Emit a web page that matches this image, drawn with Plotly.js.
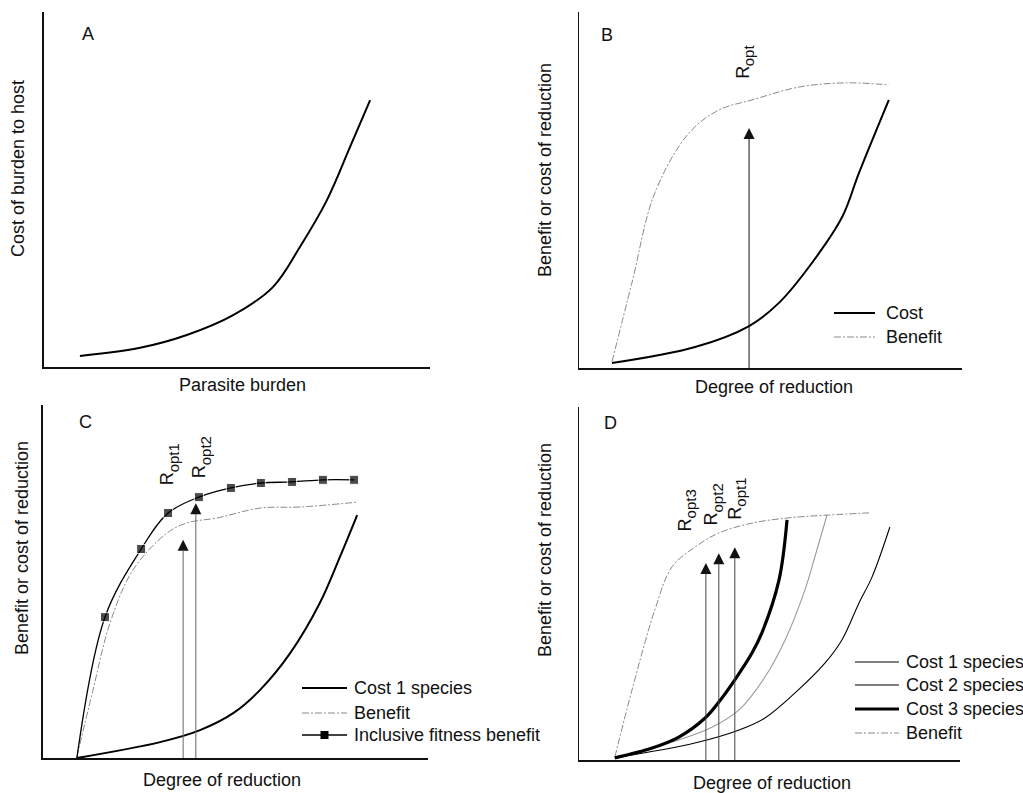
<!DOCTYPE html>
<html>
<head>
<meta charset="utf-8">
<script src="https://cdn.plot.ly/plotly-3.0.1.min.js"></script>
<style>html,body{margin:0;padding:0;background:#fff;}#chart{width:1023px;height:793px;}</style>
</head>
<body>
<div id="chart"></div>
<script>
// ---------- Panel A ----------
const xA_cost = [0.93, 2.49, 3.70, 4.90, 5.93, 6.63, 7.33, 7.93, 8.45];
const yA_cost = [0.31, 0.54, 0.90, 1.46, 2.25, 3.38, 4.70, 6.20, 7.52];

// ---------- Panel B ----------
const xB_cost = [0.86, 3.03, 4.44, 5.22, 6.08, 6.87, 7.31, 8.09];
const yB_cost = [0.14, 0.59, 1.18, 1.83, 2.95, 4.24, 5.48, 7.53];
const xB_benefit = [0.86, 1.38, 1.98, 2.87, 3.66, 4.52, 5.74, 6.95, 8.09];
const yB_benefit = [0.17, 2.39, 4.92, 6.60, 7.25, 7.53, 7.89, 8.01, 7.95];
const xB_ropt = [4.44], yB_roptTip = [6.74];

// ---------- Panel C ----------
const xC_cost = [0.88, 3.04, 4.08, 4.94, 5.64, 6.42, 7.19, 7.71, 8.16];
const yC_cost = [0.00, 0.45, 0.79, 1.27, 1.93, 2.97, 4.39, 5.69, 6.88];
const xC_benefit = [0.88, 1.30, 1.74, 2.34, 3.22, 3.74, 4.52, 5.64, 6.68, 8.18];
const yC_benefit = [0.03, 1.93, 3.82, 5.33, 6.37, 6.66, 6.80, 7.08, 7.11, 7.25];
const xC_incl = [0.88, 1.61, 2.55, 3.25, 4.05, 4.88, 5.66, 6.47, 7.27, 8.08];
const yC_incl = [0.00, 3.99, 5.92, 6.94, 7.39, 7.65, 7.79, 7.82, 7.88, 7.88];
const xC_ropt = [3.64, 3.97], yC_roptTip = [6.18, 7.22];

// ---------- Panel D ----------
const xD_cost1 = [0.94, 3.04, 4.20, 4.88, 5.67, 6.46, 6.90, 7.35, 7.69, 8.16];
const yD_cost1 = [0.06, 0.48, 0.85, 1.19, 1.90, 2.75, 3.40, 4.45, 5.18, 6.60];
const xD_cost2 = [0.94, 2.62, 3.49, 4.20, 4.88, 5.41, 5.93, 6.19, 6.51];
const yD_cost2 = [0.06, 0.57, 0.93, 1.42, 2.35, 3.40, 4.82, 5.75, 6.94];
const xD_cost3 = [0.94, 1.92, 2.62, 3.31, 3.67, 4.09, 4.54, 4.80, 5.25, 5.46];
const yD_cost3 = [0.06, 0.34, 0.65, 1.19, 1.64, 2.27, 3.03, 3.60, 5.10, 6.80];
const xD_benefit = [0.94, 1.39, 1.99, 2.44, 3.04, 3.67, 4.54, 5.51, 6.56, 7.61];
const yD_benefit = [0.08, 1.98, 4.25, 5.47, 6.03, 6.43, 6.71, 6.86, 6.94, 7.00];
const xD_ropt = [3.33, 3.67, 4.09], yD_roptTip = [5.58, 5.86, 6.03];

const panelLetters = ['A', 'B', 'C', 'D'];
const xTitles = ['Parasite burden', 'Degree of reduction', 'Degree of reduction', 'Degree of reduction'];
const yTitles = ['Cost of burden to host', 'Benefit or cost of reduction', 'Benefit or cost of reduction', 'Benefit or cost of reduction'];
const roptSubsC = ['opt1', 'opt2'];
const roptSubsD = ['opt3', 'opt2', 'opt1'];

const FONT = 'Liberation Sans, Arial, sans-serif';
const FS = 18;
const BEN = {color: '#8a8a8a', width: 1, dash: '7px,2px,2px,2px'};

function arrowHeads(xs, ys, xa, ya, color) {
  return {x: xs, y: ys, xaxis: xa, yaxis: ya, mode: 'markers', hoverinfo: 'skip', showlegend: false,
          marker: {symbol: 'arrow-up', size: 11, color: color, line: {width: 0}}};
}

const traces = [
  {x: xA_cost, y: yA_cost, xaxis: 'x', yaxis: 'y', mode: 'lines', line: {color: '#000', width: 2, shape: 'spline'}, name: 'Cost'},
  {x: xB_benefit, y: yB_benefit, xaxis: 'x2', yaxis: 'y2', mode: 'lines', line: Object.assign({shape: 'spline'}, BEN), name: 'Benefit'},
  {x: xB_cost, y: yB_cost, xaxis: 'x2', yaxis: 'y2', mode: 'lines', line: {color: '#000', width: 2, shape: 'spline'}, name: 'Cost'},
  arrowHeads(xB_ropt, yB_roptTip, 'x2', 'y2', '#111'),
  {x: xC_benefit, y: yC_benefit, xaxis: 'x3', yaxis: 'y3', mode: 'lines', line: Object.assign({shape: 'spline'}, BEN), name: 'Benefit'},
  {x: xC_cost, y: yC_cost, xaxis: 'x3', yaxis: 'y3', mode: 'lines', line: {color: '#000', width: 2, shape: 'spline'}, name: 'Cost 1 species'},
  {x: xC_incl, y: yC_incl, xaxis: 'x3', yaxis: 'y3', mode: 'lines+markers', line: {color: '#000', width: 1.3, shape: 'spline'},
   marker: {symbol: 'square', color: '#000', size: xC_incl.map((v, i) => i === 0 ? 0 : 9)}, name: 'Inclusive fitness benefit'},
  arrowHeads(xC_ropt, yC_roptTip, 'x3', 'y3', '#111'),
  {x: xD_benefit, y: yD_benefit, xaxis: 'x4', yaxis: 'y4', mode: 'lines', line: Object.assign({shape: 'spline'}, BEN), name: 'Benefit'},
  {x: xD_cost1, y: yD_cost1, xaxis: 'x4', yaxis: 'y4', mode: 'lines', line: {color: '#000', width: 1.1, shape: 'spline'}, name: 'Cost 1 species'},
  {x: xD_cost2, y: yD_cost2, xaxis: 'x4', yaxis: 'y4', mode: 'lines', line: {color: '#9a9a9a', width: 1.1, shape: 'spline'}, name: 'Cost 2 species'},
  {x: xD_cost3, y: yD_cost3, xaxis: 'x4', yaxis: 'y4', mode: 'lines', line: {color: '#000', width: 3.2, shape: 'spline'}, name: 'Cost 3 species'},
  arrowHeads(xD_ropt, yD_roptTip, 'x4', 'y4', '#111')
];

function ax(domain, anchor) {
  return {domain: domain, range: [0, 10], anchor: anchor, showgrid: false, zeroline: false,
          showticklabels: false, ticks: '', showline: true, linecolor: '#111', linewidth: 1.5, fixedrange: true};
}

const annotations = [];
const shapes = [];
function txt(x, y, text, opts) {
  annotations.push(Object.assign({xref: 'paper', yref: 'paper', x: x / 1023, y: 1 - y / 793, text: text, showarrow: false,
    font: {family: FONT, size: FS, color: '#111'}, xanchor: 'center', yanchor: 'middle'}, opts || {}));
}
function stem(xr, yr, x, tip, color) {
  shapes.push({type: 'line', xref: xr, yref: yr, x0: x, x1: x, y0: 0, y1: tip - 0.3, line: {color: color, width: 1}});
}
// "R" with its subscript, written as two rotated texts (subscript shifted down = right when rotated)
function ropt(xr, yr, x, y, sub) {
  annotations.push({xref: xr, yref: yr, x: x, y: y, text: 'R', showarrow: false, textangle: -90,
    xanchor: 'center', yanchor: 'bottom', font: {family: FONT, size: FS, color: '#111'}});
  annotations.push({xref: xr, yref: yr, x: x, y: y, text: sub, showarrow: false, textangle: -90,
    xanchor: 'center', yanchor: 'bottom', xshift: 6, yshift: 13, font: {family: FONT, size: 15, color: '#111'}});
}
function legLine(x0, x1, y, line) {
  shapes.push({type: 'line', xref: 'paper', yref: 'paper', x0: x0 / 1023, x1: x1 / 1023, y0: 1 - y / 793, y1: 1 - y / 793, line: line});
}

// panel letters
txt(88, 34, panelLetters[0]);
txt(607, 35, panelLetters[1]);
txt(85, 422, panelLetters[2]);
txt(610, 423, panelLetters[3]);

// axis titles
txt(242, 385, xTitles[0]);
txt(18, 169, yTitles[0], {textangle: -90});
txt(774, 387, xTitles[1]);
txt(545, 170, yTitles[1], {textangle: -90});
txt(222, 780, xTitles[2]);
txt(22, 548, yTitles[2], {textangle: -90});
txt(772, 783, xTitles[3]);
txt(545, 550, yTitles[3], {textangle: -90});

// arrow stems and labels
xB_ropt.forEach((x, i) => stem('x2', 'y2', x, yB_roptTip[i], '#111'));
ropt('x2', 'y2', 4.26, 8.06, 'opt');
xC_ropt.forEach((x, i) => stem('x3', 'y3', x, yC_roptTip[i], '#666'));
ropt('x3', 'y3', 3.22, 7.68, roptSubsC[0]);
ropt('x3', 'y3', 4.05, 7.88, roptSubsC[1]);
xD_ropt.forEach((x, i) => stem('x4', 'y4', x, yD_roptTip[i], '#444'));
ropt('x4', 'y4', 2.78, 6.43, roptSubsD[0]);
ropt('x4', 'y4', 3.49, 6.60, roptSubsD[1]);
ropt('x4', 'y4', 4.07, 6.74, roptSubsD[2]);

// legends (drawn manually)
legLine(834, 875, 313, {color: '#000', width: 2});
txt(884, 313, 'Cost', {xanchor: 'left'});
legLine(834, 875, 337, BEN);
txt(884, 337, 'Benefit', {xanchor: 'left'});

legLine(302, 347, 688, {color: '#000', width: 2});
txt(352, 688, 'Cost 1 species', {xanchor: 'left'});
legLine(302, 347, 713, BEN);
txt(352, 713, 'Benefit', {xanchor: 'left'});
legLine(302, 347, 735, {color: '#000', width: 1.3});
shapes.push({type: 'rect', xref: 'paper', yref: 'paper', x0: 320.5 / 1023, x1: 328.5 / 1023, y0: 1 - 739 / 793, y1: 1 - 731 / 793,
  fillcolor: '#000', line: {width: 0}});
txt(352, 735, 'Inclusive fitness benefit', {xanchor: 'left'});

legLine(855, 899, 662, {color: '#000', width: 1.1});
txt(904, 662, 'Cost 1 species', {xanchor: 'left'});
legLine(855, 899, 685, {color: '#555', width: 1.3});
txt(904, 685, 'Cost 2 species', {xanchor: 'left'});
legLine(855, 899, 709, {color: '#000', width: 3.2});
txt(904, 709, 'Cost 3 species', {xanchor: 'left'});
legLine(855, 899, 733, BEN);
txt(904, 733, 'Benefit', {xanchor: 'left'});

const layout = {
  width: 1023, height: 793, margin: {l: 0, r: 0, t: 0, b: 0}, showlegend: false,
  paper_bgcolor: '#fff', plot_bgcolor: '#fff', font: {family: FONT, size: FS, color: '#111'},
  xaxis: ax([0.0430, 0.4203], 'y'), yaxis: ax([0.5372, 0.9849], 'x'),
  xaxis2: ax([0.5660, 0.9404], 'y2'), yaxis2: ax([0.5359, 0.9849], 'x2'),
  xaxis3: ax([0.0420, 0.4184], 'y3'), yaxis3: ax([0.0441, 0.4893], 'x3'),
  xaxis4: ax([0.5660, 0.9384], 'y4'), yaxis4: ax([0.0416, 0.4868], 'x4'),
  annotations: annotations, shapes: shapes
};

Plotly.newPlot('chart', traces, layout, {displayModeBar: false, staticPlot: true});
</script>
</body>
</html>
